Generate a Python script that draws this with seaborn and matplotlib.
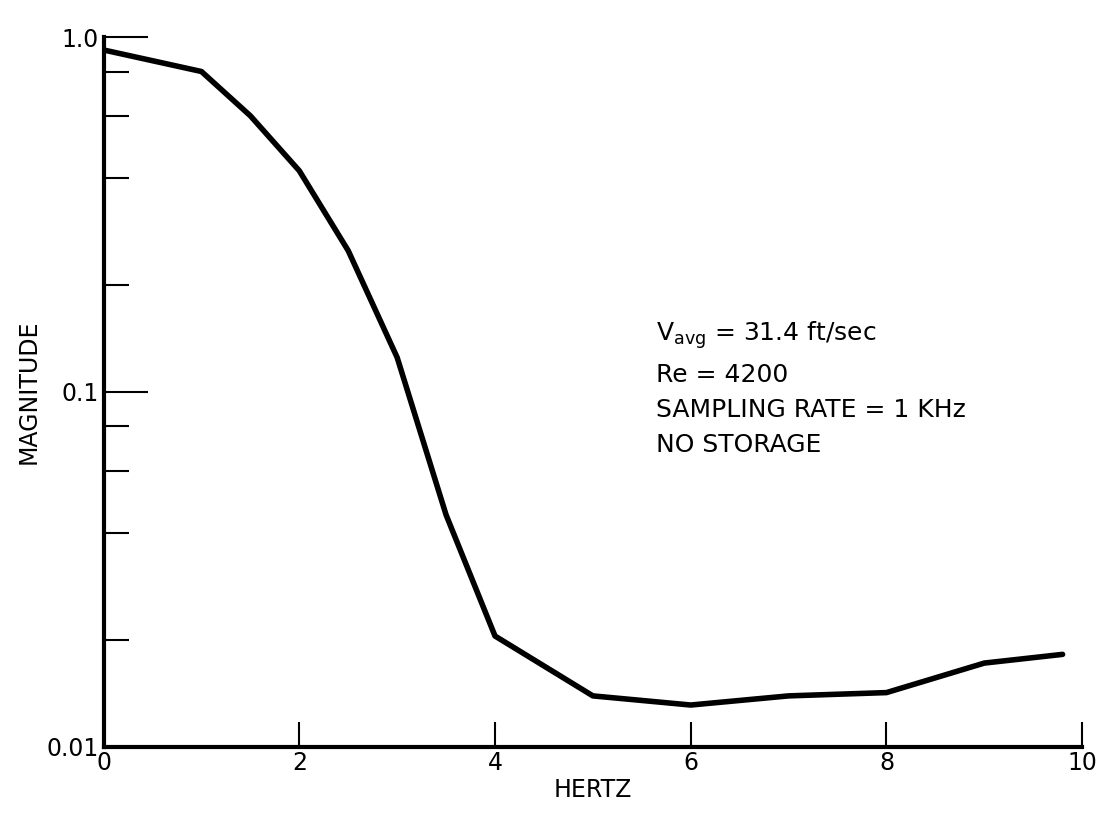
import matplotlib
matplotlib.use("agg")
import matplotlib.pyplot as plt
import seaborn as sns
from matplotlib.ticker import FixedLocator, NullFormatter

hertz = [0.0, 1.0, 1.5, 2.0, 2.5, 3.0, 3.5, 4.0, 5.0, 6.0, 7.0, 8.0, 9.0, 9.8]
magnitude = [0.92, 0.80, 0.60, 0.42, 0.25, 0.125, 0.045, 0.0205, 0.0139, 0.0131,
             0.0139, 0.0142, 0.0172, 0.0182]
y_major = [0.01, 0.1, 1.0]
y_major_labels = ["0.01", "0.1", "1.0"]
y_minor = [0.02, 0.04, 0.06, 0.08, 0.2, 0.4, 0.6, 0.8]
x_ticks = [0, 2, 4, 6, 8, 10]

sns.set_style("ticks")
plt.rcParams["font.family"] = ["Liberation Sans Narrow", "DejaVu Sans"]
plt.rcParams["font.size"] = 17
plt.rcParams["text.color"] = "black"
plt.rcParams["axes.labelcolor"] = "black"
plt.rcParams["xtick.color"] = "black"
plt.rcParams["ytick.color"] = "black"
plt.rcParams["axes.edgecolor"] = "black"

fig, ax = plt.subplots(figsize=(11.02, 8.25), dpi=100)
sns.lineplot(x=hertz, y=magnitude, ax=ax, color="black", linewidth=4)
ax.set_yscale("log")
ax.set_xlim(0, 10)
ax.set_ylim(0.01, 1.0)
ax.yaxis.set_major_locator(FixedLocator(y_major))
ax.set_yticklabels(y_major_labels)
ax.yaxis.set_minor_locator(FixedLocator(y_minor))
ax.yaxis.set_minor_formatter(NullFormatter())
ax.set_xticks(x_ticks)
ax.tick_params(axis="y", which="major", direction="in", length=32, width=1.5, labelsize=17)
ax.tick_params(axis="y", which="minor", direction="in", length=18, width=1.5)
ax.tick_params(axis="x", direction="in", length=18, width=1.5, labelsize=17)
for s in ["top", "right"]:
    ax.spines[s].set_visible(False)
for s in ["left", "bottom"]:
    ax.spines[s].set_linewidth(3)
ax.set_xlabel("HERTZ", fontsize=17, labelpad=2)
ax.set_ylabel("MAGNITUDE", fontsize=17)

ax.text(5.65, 0.16, "V$_{\\rm avg}$ = 31.4 ft/sec\nRe = 4200\nSAMPLING RATE = 1 KHz\nNO STORAGE",
        fontsize=18, va="top", linespacing=1.6)

fig.subplots_adjust(left=0.094, right=0.982, top=0.955, bottom=0.095)
fig.savefig("out.png", dpi=100)
